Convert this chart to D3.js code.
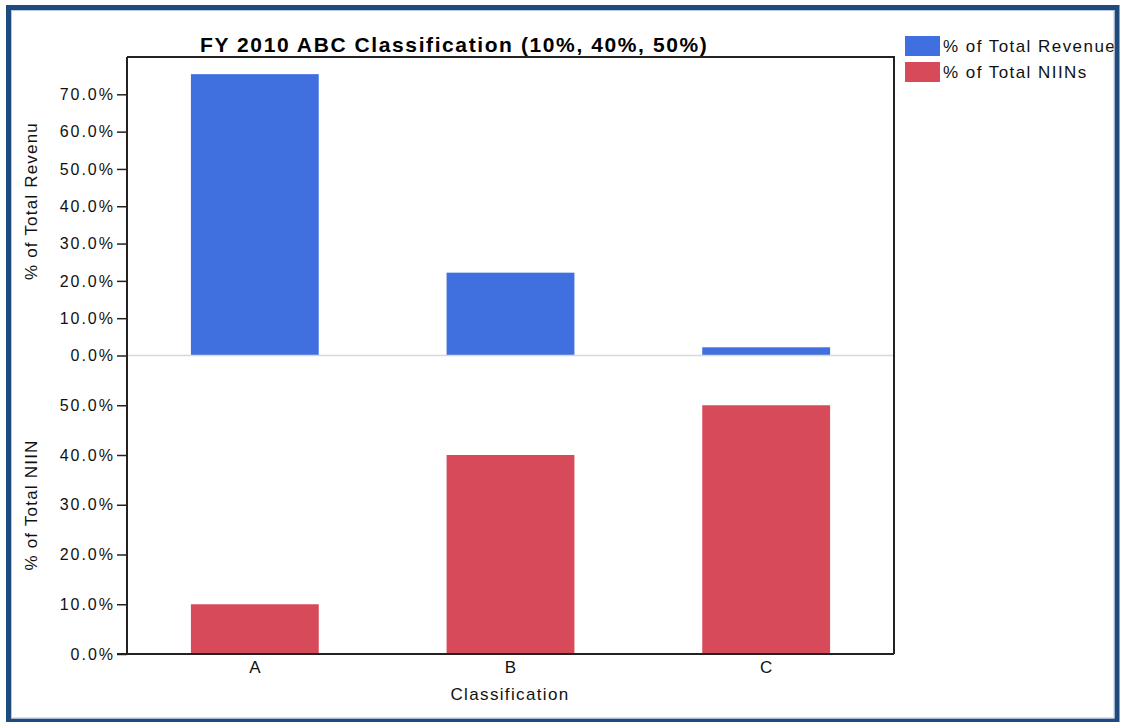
<!DOCTYPE html>
<html><head><meta charset="utf-8">
<script src="https://cdn.jsdelivr.net/npm/d3@7"></script>
<style>body{margin:0;background:#fff;} svg{display:block;} text{font-family:"Liberation Sans",Arial,sans-serif;}</style>
</head><body>
<script>
const categories = ["A", "B", "C"];
const revenueValues = [0.754, 0.222, 0.022];
const niinValues = [0.10, 0.40, 0.50];
const revenueTicks = [0, 0.1, 0.2, 0.3, 0.4, 0.5, 0.6, 0.7];
const niinTicks = [0, 0.1, 0.2, 0.3, 0.4, 0.5];
const seriesNames = ["% of Total Revenue", "% of Total NIINs"];
const colors = ["#4070e0", "#d64a5a"];

const W = 1122, H = 722;
const svg = d3.select("body").append("svg").attr("width", W).attr("height", H);

const pLeft = 127, pRight = 894, pTop = 57, pMid = 355.5, pBottom = 654;
const x = d3.scaleBand().domain(categories).range([pLeft, pRight]).paddingInner(0.5).paddingOuter(0.25);
const yTop = d3.scaleLinear().domain([0, 0.8]).range([pMid, pTop]);
const yBot = d3.scaleLinear().domain([0, 0.6]).range([pBottom, pMid]);
const fmt = d3.format(".1%");

// bars
svg.selectAll(".rev").data(categories).join("rect")
  .attr("x", d => x(d)).attr("width", x.bandwidth())
  .attr("y", (d, i) => yTop(revenueValues[i]))
  .attr("height", (d, i) => yTop(0) - yTop(revenueValues[i]))
  .attr("fill", colors[0]);
svg.selectAll(".niin").data(categories).join("rect")
  .attr("x", d => x(d)).attr("width", x.bandwidth())
  .attr("y", (d, i) => yBot(niinValues[i]))
  .attr("height", (d, i) => yBot(0) - yBot(niinValues[i]))
  .attr("fill", colors[1]);

// divider
svg.append("line").attr("x1", pLeft).attr("x2", pRight).attr("y1", pMid).attr("y2", pMid)
  .attr("stroke", "#d8d8d8").attr("stroke-width", 1.5);

// frame top/right
svg.append("path").attr("d", `M${pLeft},${pTop}H${pRight}V${pBottom}`).attr("fill", "none")
  .attr("stroke", "#222").attr("stroke-width", 2);

// y axes
function styleAxis(g) {
  g.selectAll("text").attr("font-size", 16).attr("fill", "#111").attr("letter-spacing", 2);
  g.select(".domain").remove();
  g.selectAll(".tick line").attr("stroke", "#222").attr("stroke-width", 1.5);
}
svg.append("g").attr("transform", `translate(${pLeft},0)`)
  .call(d3.axisLeft(yTop).tickValues(revenueTicks).tickFormat(fmt).tickSize(10).tickPadding(2))
  .call(styleAxis);
svg.append("g").attr("transform", `translate(${pLeft},0)`)
  .call(d3.axisLeft(yBot).tickValues(niinTicks).tickFormat(fmt).tickSize(10).tickPadding(2))
  .call(styleAxis);
svg.append("line").attr("x1", pLeft).attr("x2", pLeft).attr("y1", pTop).attr("y2", pBottom)
  .attr("stroke", "#222").attr("stroke-width", 2);

// x axis
const gx = svg.append("g").attr("transform", `translate(0,${pBottom})`)
  .call(d3.axisBottom(x).tickSize(0).tickPadding(7));
gx.select(".domain").remove();
gx.selectAll("text").attr("fill", "#111").attr("font-size", 17);
svg.append("line").attr("x1", pLeft - 10).attr("x2", pRight).attr("y1", pBottom).attr("y2", pBottom)
  .attr("stroke", "#222").attr("stroke-width", 2);

// axis titles
svg.append("text").attr("x", 510).attr("y", 700).attr("text-anchor", "middle")
  .attr("font-size", 17).attr("letter-spacing", 1.35).attr("fill", "#111").text("Classification");
svg.append("text").attr("transform", `translate(37,201) rotate(-90)`).attr("text-anchor", "middle")
  .attr("font-size", 17).attr("letter-spacing", 1.2).attr("fill", "#111").text("% of Total Revenu");
svg.append("text").attr("transform", `translate(37,505) rotate(-90)`).attr("text-anchor", "middle")
  .attr("font-size", 17).attr("letter-spacing", 1.2).attr("fill", "#111").text("% of Total NIIN");

// title
svg.append("text").attr("x", 200).attr("y", 52).attr("text-anchor", "start")
  .attr("font-size", 21).attr("font-weight", "bold").attr("letter-spacing", 1.6).attr("fill", "#000")
  .text("FY 2010 ABC Classification (10%, 40%, 50%)");

// legend
const lg = svg.append("g");
seriesNames.forEach((n, i) => {
  lg.append("rect").attr("x", 905).attr("y", 36 + i * 26).attr("width", 35).attr("height", 20).attr("fill", colors[i]);
  lg.append("text").attr("x", 943).attr("y", 52 + i * 26).attr("font-size", 17).attr("letter-spacing", 1.45)
    .attr("fill", "#111").text(n);
});

// outer border
svg.append("rect").attr("x", 8.5).attr("y", 7.5).attr("width", 1108.5).attr("height", 713.5)
  .attr("fill", "none").attr("stroke", "#1f4a7e").attr("stroke-width", 5);
svg.append("rect").attr("x", 11.5).attr("y", 10.5).attr("width", 1102.5).attr("height", 707.5)
  .attr("fill", "none").attr("stroke", "#b8c8dc").attr("stroke-width", 1);
</script>
</body></html>
